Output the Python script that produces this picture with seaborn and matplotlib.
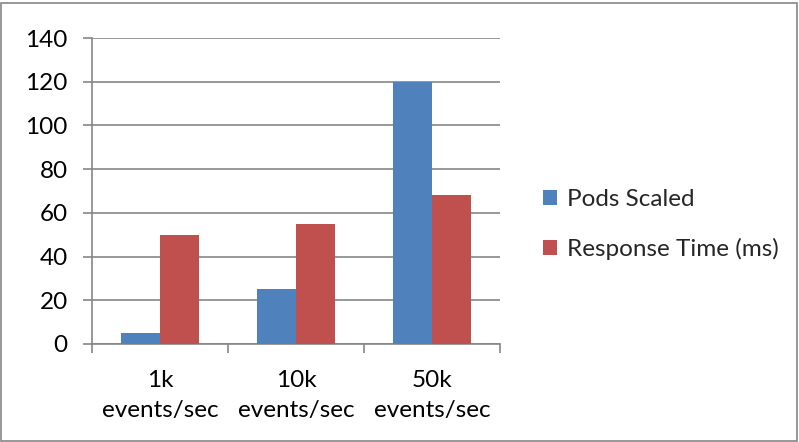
import matplotlib
matplotlib.use("Agg")
import matplotlib.pyplot as plt
import seaborn as sns
import pandas as pd
from matplotlib.patches import Rectangle
from matplotlib.ticker import FixedLocator

categories = ["1k\nevents/sec", "10k\nevents/sec", "50k\nevents/sec"]
pods_scaled = [5, 25, 120]
response_time = [50, 55, 68]
series_names = ["Pods Scaled", "Response Time (ms)"]
y_ticks = [0, 20, 40, 60, 80, 100, 120, 140]

df = pd.DataFrame({
    "load": categories * 2,
    "value": pods_scaled + response_time,
    "series": [series_names[0]] * 3 + [series_names[1]] * 3,
})

sns.set_theme(style="white")
plt.rcParams["font.family"] = ["Lato", "DejaVu Sans"]

grid_col = "#868686"
fs = 17.5
fig = plt.figure(figsize=(7.99, 4.42), dpi=100)
ax = fig.add_axes([92 / 799, 1 - 344 / 442, 408 / 799, 306 / 442])

sns.barplot(data=df, x="load", y="value", hue="series", order=categories,
            hue_order=series_names, palette=["#4F81BD", "#C0504D"],
            width=0.572, gap=0, saturation=1, ax=ax, zorder=3, edgecolor="none")

ax.set_xlim(-0.5, 2.5)
ax.set_ylim(0, 140)
ax.set_yticks(y_ticks)
ax.yaxis.grid(True, color=grid_col, linewidth=1.2, zorder=0)
ax.set_axisbelow(True)
ax.set_xlabel("")
ax.set_ylabel("")

for side in ["top", "right"]:
    ax.spines[side].set_visible(False)
for side in ["left", "bottom"]:
    ax.spines[side].set_color(grid_col)
    ax.spines[side].set_linewidth(1.2)

ax.tick_params(axis="y", which="major", left=True, length=6.5, width=1.2,
               color=grid_col, labelsize=fs, pad=11, labelcolor="black")
ax.tick_params(axis="x", which="major", bottom=False, labelsize=fs, pad=13,
               labelcolor="black")
ax.xaxis.set_minor_locator(FixedLocator([-0.5, 0.5, 1.5, 2.5]))
ax.tick_params(axis="x", which="minor", bottom=True, length=6.5, width=1.2,
               color=grid_col)
for lbl in ax.get_xticklabels():
    lbl.set_linespacing(1.5)

ax.legend(title=None, loc="center left", bbox_to_anchor=(1.052, 0.39),
          frameon=False, fontsize=fs, handlelength=0.58, handleheight=0.58,
          handletextpad=0.4, labelspacing=1.15)

fig.patches.append(Rectangle((1 / 799, 1 / 442), 796 / 799, 438 / 442,
                             transform=fig.transFigure, fill=False,
                             edgecolor=grid_col, linewidth=1.2))

fig.savefig("out.png", dpi=100)
